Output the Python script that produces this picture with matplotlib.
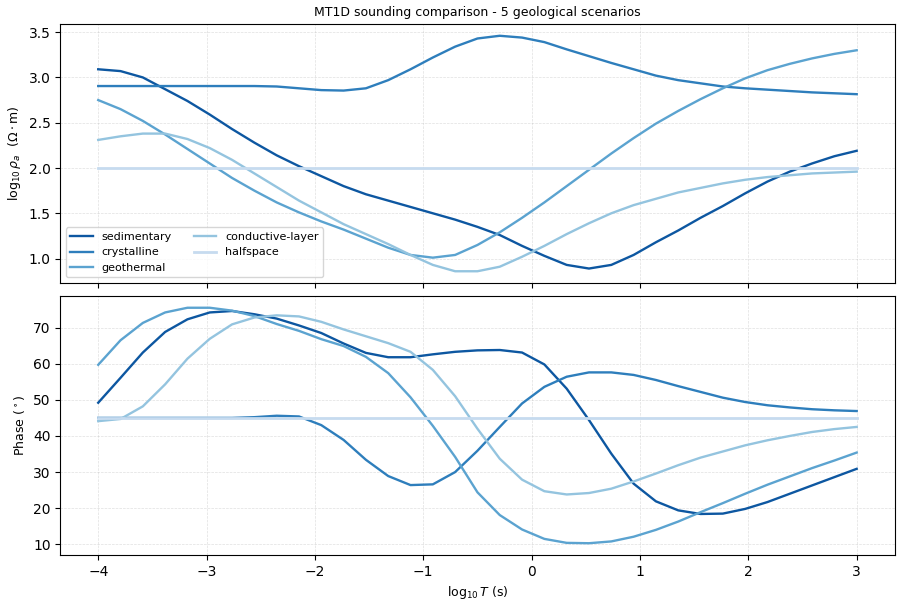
import numpy as np
import matplotlib
matplotlib.use("Agg")
import matplotlib.pyplot as plt

# Periodos (log10 T), 35 puntos entre -4 y 3
log_T = np.linspace(-4, 3, 35)

scenarios = ["sedimentary", "crystalline", "geothermal", "conductive-layer", "halfspace"]

# log10 resistividad aparente
rho_sedimentary = [3.09, 3.07, 3.00, 2.87, 2.74, 2.59, 2.43, 2.28, 2.14, 2.02,
                   1.91, 1.80, 1.71, 1.64, 1.57, 1.50, 1.43, 1.35, 1.26, 1.14,
                   1.03, 0.93, 0.89, 0.93, 1.04, 1.18, 1.31, 1.45, 1.58, 1.72,
                   1.85, 1.96, 2.05, 2.13, 2.19]
rho_crystalline = [2.905, 2.905, 2.905, 2.905, 2.905, 2.905, 2.905, 2.905, 2.90, 2.88,
                   2.86, 2.855, 2.88, 2.97, 3.09, 3.22, 3.34, 3.43, 3.46, 3.44,
                   3.39, 3.31, 3.235, 3.16, 3.09, 3.02, 2.97, 2.935, 2.90, 2.88,
                   2.865, 2.85, 2.835, 2.825, 2.815]
rho_geothermal = [2.75, 2.65, 2.52, 2.37, 2.21, 2.05, 1.89, 1.75, 1.62, 1.51,
                  1.41, 1.32, 1.22, 1.12, 1.04, 1.01, 1.04, 1.15, 1.29, 1.45,
                  1.62, 1.80, 1.98, 2.16, 2.33, 2.49, 2.63, 2.76, 2.88, 2.99,
                  3.08, 3.15, 3.21, 3.26, 3.30]
rho_conductive = [2.31, 2.35, 2.38, 2.38, 2.32, 2.22, 2.09, 1.94, 1.79, 1.64,
                  1.51, 1.38, 1.27, 1.16, 1.04, 0.93, 0.86, 0.86, 0.91, 1.02,
                  1.14, 1.27, 1.39, 1.50, 1.59, 1.66, 1.73, 1.78, 1.83, 1.87,
                  1.90, 1.92, 1.94, 1.95, 1.96]
rho_halfspace = [2.0] * 35

# Fase (grados)
phi_sedimentary = [49.2, 56.1, 63.1, 68.8, 72.3, 74.2, 74.6, 73.7, 72.5, 70.6,
                   68.5, 65.6, 63.0, 61.8, 61.8, 62.6, 63.3, 63.7, 63.8, 63.1,
                   59.8, 53.1, 44.4, 35.1, 26.8, 21.9, 19.4, 18.4, 18.5, 19.8,
                   21.7, 24.0, 26.3, 28.6, 30.9]
phi_crystalline = [45.0, 45.0, 45.0, 45.0, 45.0, 45.0, 45.0, 45.2, 45.6, 45.4,
                   43.0, 38.9, 33.4, 28.9, 26.4, 26.6, 30.0, 35.9, 42.5, 49.0,
                   53.6, 56.4, 57.6, 57.6, 56.9, 55.5, 53.8, 52.2, 50.6, 49.4,
                   48.5, 47.9, 47.4, 47.1, 46.9]
phi_geothermal = [59.7, 66.5, 71.3, 74.2, 75.5, 75.5, 74.7, 73.2, 71.0, 69.1,
                  66.8, 64.9, 61.9, 57.4, 50.7, 42.8, 34.2, 24.4, 18.1, 14.1,
                  11.5, 10.4, 10.3, 10.8, 12.1, 14.0, 16.3, 18.9, 21.4, 24.0,
                  26.5, 28.8, 31.1, 33.2, 35.4]
phi_conductive = [44.1, 44.7, 48.2, 54.3, 61.4, 66.9, 70.9, 72.8, 73.4, 73.1,
                  71.6, 69.5, 67.6, 65.7, 63.3, 58.3, 51.0, 42.0, 33.7, 27.9,
                  24.7, 23.8, 24.2, 25.4, 27.4, 29.6, 31.9, 34.0, 35.7, 37.4,
                  38.8, 40.0, 41.1, 41.9, 42.5]
phi_halfspace = [45.0] * 35

rho_all = [rho_sedimentary, rho_crystalline, rho_geothermal, rho_conductive, rho_halfspace]
phi_all = [phi_sedimentary, phi_crystalline, phi_geothermal, phi_conductive, phi_halfspace]

colors = plt.cm.Blues(np.linspace(0.85, 0.25, len(scenarios)))

fig, (ax1, ax2) = plt.subplots(2, 1, figsize=(9, 6), dpi=100, sharex=True)
fig.subplots_adjust(left=0.067, right=0.994, top=0.96, bottom=0.075, hspace=0.05)

for name, rho, phi, c in zip(scenarios, rho_all, phi_all, colors):
    lw = 2.0 if name == "halfspace" else 1.7
    ax1.plot(log_T, rho, color=c, lw=lw, label=name)
    ax2.plot(log_T, phi, color=c, lw=lw)

ax1.set_ylabel(r"$\log_{10}\rho_a$  ($\Omega\cdot$m)", fontsize=9)
ax1.set_title("MT1D sounding comparison - 5 geological scenarios", fontsize=9)
ax1.legend(loc="lower left", ncol=2, fontsize=8)
ax1.grid(True, linestyle="--", linewidth=0.5, alpha=0.4)

ax2.set_ylabel(r"Phase ($^\circ$)", fontsize=9)
ax2.set_xlabel(r"$\log_{10}T$ (s)", fontsize=9)
ax2.grid(True, linestyle="--", linewidth=0.5, alpha=0.4)

fig.savefig("out.png", dpi=100)
